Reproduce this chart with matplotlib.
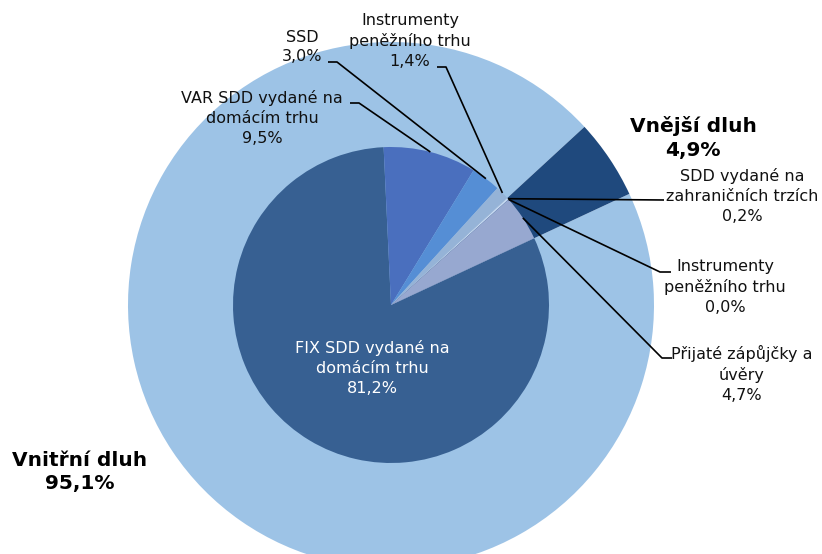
import numpy as np
import matplotlib.pyplot as plt

# Outer ring: internal vs external debt
outer_labels = ['Vnitřní dluh', 'Vnější dluh']
outer_values = [95.1, 4.9]
outer_colors = ['#9DC3E6', '#1F497D']

# Inner pie: debt instruments
inner_labels = ['FIX SDD vydané na\ndomácím trhu',
                'VAR SDD vydané na\ndomácím trhu',
                'SSD',
                'Instrumenty\npeněžního trhu',
                'SDD vydané na\nzahraničních trzích',
                'Instrumenty\npeněžního trhu',
                'Přijaté zápůjčky a\núvěry']
inner_values = [81.2, 9.5, 3.0, 1.4, 0.2, 0.0, 4.7]
inner_colors = ['#376092', '#4A6FBE', '#558ED5', '#95B3D7',
                '#C6D9F1', '#1F497D', '#97A8D0']


def pct(v):
    return f"{v:.1f}".replace('.', ',') + '%'


W, H = 822, 554
cx, cy = 391, H - 305
r_out, r_in = 263, 158

fig = plt.figure(figsize=(W / 100, H / 100), dpi=100)
ax = fig.add_axes([0, 0, 1, 1])

ax.pie(outer_values, colors=outer_colors, radius=r_out, center=(cx, cy),
       startangle=25, counterclock=False, wedgeprops=dict(linewidth=0))
wedges, _ = ax.pie(inner_values, colors=inner_colors, radius=r_in, center=(cx, cy),
                   startangle=25, counterclock=False, wedgeprops=dict(linewidth=0))

ax.set_xlim(0, W)
ax.set_ylim(0, H)
ax.set_aspect('equal')
ax.axis('off')

fs = 11.5
ls = 1.38
# text centre and leader elbow points (pixels from top-left), per inner slice
layout = {
    1: dict(text=(262, 118), path=[(359, 103), (350, 103)]),
    2: dict(text=(302, 47), path=[(337, 62), (328, 62)]),
    3: dict(text=(410, 41), path=[(446, 67), (437, 67)]),
    4: dict(text=(742, 196), path=[(664, 200)]),
    5: dict(text=(725, 287), path=[(660, 272), (671, 272)]),
    6: dict(text=(742, 374), path=[(662, 358), (672, 358)]),
}

for i, w in enumerate(wedges):
    txt = inner_labels[i] + '\n' + pct(inner_values[i])
    if i == 0:
        ax.text(372, H - 368, txt, ha='center', va='center', fontsize=fs,
                color='white', linespacing=ls)
        continue
    lay = layout[i]
    mid = np.deg2rad((w.theta1 + w.theta2) / 2)
    ax0 = cx + r_in * np.cos(mid)
    ay0 = cy + r_in * np.sin(mid)
    xs = [ax0] + [p[0] for p in lay['path']]
    ys = [ay0] + [H - p[1] for p in lay['path']]
    ax.plot(xs, ys, color='black', lw=1.2, solid_capstyle='butt')
    tx, ty = lay['text']
    ax.text(tx, H - ty, txt, ha='center', va='center', fontsize=fs,
            color='#111111', linespacing=ls)

# outer labels
ax.text(80, H - 472, outer_labels[0] + '\n' + pct(outer_values[0]),
        ha='center', va='center', fontsize=14.5, fontweight='bold', linespacing=1.3)
ax.text(693, H - 138, outer_labels[1] + '\n' + pct(outer_values[1]),
        ha='center', va='center', fontsize=14.5, fontweight='bold', linespacing=1.3)

fig.savefig('out.png', dpi=100)
